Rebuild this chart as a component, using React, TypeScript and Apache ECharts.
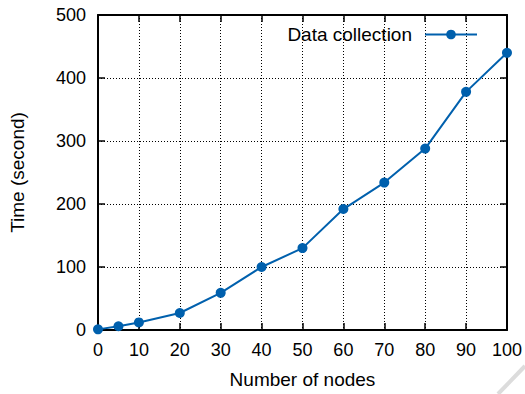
import React, { useEffect, useRef } from "react";
import * as echarts from "echarts";

const nodes = [0, 5, 10, 20, 30, 40, 50, 60, 70, 80, 90, 100];
const times = [1, 6, 12, 27, 59, 100, 130, 192, 234, 288, 378, 440];
const seriesName = "Data collection";
const xAxisName = "Number of nodes";
const yAxisName = "Time (second)";

const FONT = "Liberation Sans, Arial, Helvetica, sans-serif";
const COLOR = "#0060ad";

export default function App() {
  const ref = useRef<HTMLDivElement>(null);
  useEffect(() => {
    if (!ref.current) return;
    const chart = echarts.init(ref.current, null, { renderer: "svg" });
    const tickCommon = { show: true, inside: true, length: 7, lineStyle: { color: "#000", width: 1.5 } };
    const axisLine = { show: true, onZero: false, lineStyle: { color: "#000", width: 2 } };
    const labelStyle = { color: "#000", fontSize: 18, fontFamily: FONT };
    const nameStyle = { color: "#000", fontSize: 19, fontFamily: FONT };
    chart.setOption({
      animation: false,
      backgroundColor: "#fff",
      grid: { left: 97, right: 18, top: 15, bottom: 61, containLabel: false },
      legend: {
        show: true,
        data: [seriesName],
        right: 42,
        top: 20,
        align: "right",
        itemWidth: 52,
        itemHeight: 12,
        textStyle: { color: "#000", fontSize: 19, fontFamily: FONT, padding: [0, 8, 0, 0] },
      },
      xAxis: [
        {
          type: "value",
          min: 0,
          max: 100,
          interval: 10,
          position: "bottom",
          name: xAxisName,
          nameLocation: "middle",
          nameGap: 40,
          nameTextStyle: nameStyle,
          axisLine,
          axisTick: tickCommon,
          axisLabel: { ...labelStyle, margin: 11 },
          splitLine: { show: true, lineStyle: { color: "#000", type: [1, 2], width: 1 } },
        },
        {
          type: "value",
          min: 0,
          max: 100,
          interval: 10,
          position: "top",
          axisLine,
          axisTick: tickCommon,
          axisLabel: { show: false },
          splitLine: { show: false },
        },
      ],
      yAxis: [
        {
          type: "value",
          min: 0,
          max: 500,
          interval: 100,
          position: "left",
          name: yAxisName,
          nameLocation: "middle",
          nameGap: 71,
          nameTextStyle: nameStyle,
          axisLine,
          axisTick: tickCommon,
          axisLabel: { ...labelStyle, margin: 12 },
          splitLine: { show: true, lineStyle: { color: "#000", type: [1, 2], width: 1 } },
        },
        {
          type: "value",
          min: 0,
          max: 500,
          interval: 100,
          position: "right",
          axisLine,
          axisTick: tickCommon,
          axisLabel: { show: false },
          splitLine: { show: false },
        },
      ],
      series: [
        {
          name: seriesName,
          type: "line",
          xAxisIndex: 0,
          yAxisIndex: 0,
          data: nodes.map((n, i) => [n, times[i]]),
          symbol: "circle",
          symbolSize: 10,
          showSymbol: true,
          color: COLOR,
          lineStyle: { color: COLOR, width: 2 },
          itemStyle: { color: COLOR },
          z: 5,
        },
      ],
      graphic: [
        {
          type: "line",
          shape: { x1: 498, y1: 394, x2: 525, y2: 366 },
          style: { stroke: "#dcdcdc", lineWidth: 4 },
          silent: true,
        },
      ],
    });
    return () => chart.dispose();
  }, []);
  return (
    <div
      ref={ref}
      style={{ position: "absolute", left: 0, top: 0, width: 525, height: 394 }}
    />
  );
}
